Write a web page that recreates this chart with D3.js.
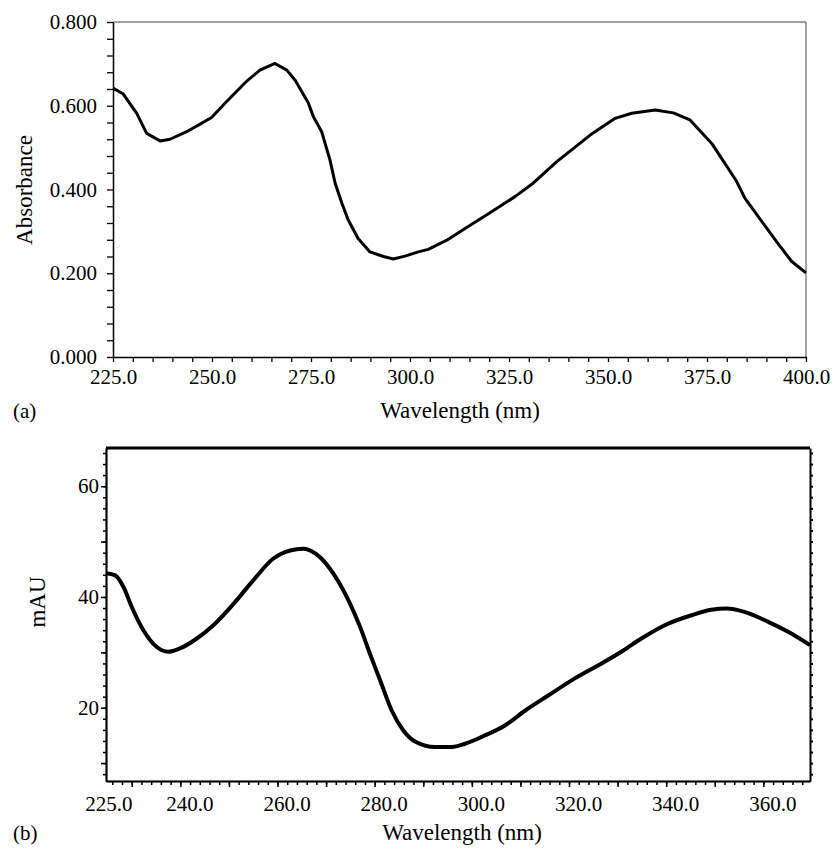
<!DOCTYPE html>
<html>
<head>
<meta charset="utf-8">
<script src="https://cdn.jsdelivr.net/npm/d3@7"></script>
<style>
  body { margin: 0; background: #fff; }
</style>
</head>
<body>
<div id="chart"></div>
<script>
// (a) absorbance spectrum
var absWavelength = [225, 227.6, 231, 233.5, 236.9, 239.4, 243.6, 247, 249.9, 253.7, 258.8, 262.1, 265.9, 268.9, 271, 274.3,
    275.6, 277.7, 279.8, 281.1, 282.8, 284.4, 286.9, 289.9, 293.3, 295.8, 298.7, 302.1, 304.6, 309.3, 313.9, 320.6,
    326.5, 331.1, 337, 345.5, 351.8, 356, 361.9, 366.5, 370.7, 376.2, 382.5, 384.6, 389.2, 392.6, 396.4, 400];
var absValues = [0.642, 0.628, 0.582, 0.534, 0.516, 0.520, 0.538, 0.556, 0.572, 0.610, 0.659, 0.685, 0.701, 0.685, 0.661, 0.607,
    0.574, 0.538, 0.470, 0.415, 0.367, 0.327, 0.283, 0.251, 0.240, 0.234, 0.241, 0.251, 0.257, 0.279, 0.307, 0.347,
    0.383, 0.415, 0.466, 0.530, 0.570, 0.582, 0.590, 0.583, 0.566, 0.510, 0.419, 0.379, 0.319, 0.275, 0.228, 0.201];
var absXTicks = [225, 250, 275, 300, 325, 350, 375, 400];
var absYTicks = [0, 0.2, 0.4, 0.6, 0.8];

// (b) DAD spectrum
var mauWavelength = [224.7, 226.6, 228.3, 230, 232.4, 235.1, 237.5, 239.9, 243.4, 246.8, 251, 255, 259.1, 262.6, 265.3,
    268.7, 271.5, 274.6, 277, 279, 281.1, 283.5, 285.9, 288.5, 292.4, 295.9, 298.6, 302.7, 306.8, 311, 315.7,
    321.2, 326.7, 331.1, 334.9, 339.7, 345.2, 349.3, 352.4, 356.1, 361, 365.1, 369.6];
var mauValues = [44.3, 43.9, 41.8, 38.2, 34.0, 31.0, 30.1, 30.7, 32.5, 34.9, 38.8, 43.0, 46.9, 48.4, 48.7,
    47.2, 44.2, 39.4, 34.6, 29.8, 25.0, 19.5, 15.9, 13.8, 12.9, 12.9, 13.5, 15.0, 16.8, 19.5, 22.2,
    25.3, 28.0, 30.3, 32.5, 34.9, 36.7, 37.7, 37.9, 37.3, 35.5, 33.7, 31.3];
var mauXTicks = [225, 240, 260, 280, 300, 320, 340, 360];
var mauYTicks = [20, 40, 60];

var serif = "'Liberation Serif', 'Times New Roman', Tinos, serif";

var svg = d3.select("#chart").append("svg")
    .attr("width", 835)
    .attr("height", 849);

// ---------- panel a ----------
var xa = d3.scaleLinear().domain([225, 400]).range([113, 806]);
var ya = d3.scaleLinear().domain([0, 0.8]).range([357, 22]);

var ga = svg.append("g");

// frame (top and right)
ga.append("path")
    .attr("d", "M" + xa(225) + "," + ya(0.8) + "H" + xa(400) + "V" + ya(0))
    .attr("fill", "none")
    .attr("stroke", "#444")
    .attr("stroke-width", 1);

var axA = ga.append("g")
    .attr("transform", "translate(0," + ya(0) + ")")
    .call(d3.axisBottom(xa)
        .tickValues(d3.range(225, 401, 5))
        .tickSize(5).tickSizeOuter(0).tickPadding(7)
        .tickFormat(function (d) { return absXTicks.indexOf(d) >= 0 ? d.toFixed(1) : ""; }));

var ayA = ga.append("g")
    .attr("transform", "translate(" + xa(225) + ",0)")
    .call(d3.axisLeft(ya)
        .tickValues(d3.range(0, 21).map(function (i) { return i * 0.04; }))
        .tickSize(6).tickSizeOuter(0).tickPadding(10)
        .tickFormat(function (d, i) { return i % 5 === 0 ? d.toFixed(3) : ""; }));

[axA, ayA].forEach(function (g) {
    g.attr("font-family", serif);
    g.selectAll("text").style("font-family", serif).style("font-size", "21px").attr("fill", "#000");
    g.selectAll("line").attr("stroke", "#000").attr("stroke-width", 1.3);
    g.select(".domain").attr("stroke", "#000").attr("stroke-width", 1.5);
});

var lineA = d3.line()
    .x(function (d, i) { return xa(absWavelength[i]); })
    .y(function (d) { return ya(d); });

ga.append("path")
    .datum(absValues)
    .attr("d", lineA)
    .attr("fill", "none")
    .attr("stroke", "#000")
    .attr("stroke-width", 3)
    .attr("stroke-linejoin", "round");

ga.append("text")
    .attr("transform", "translate(24,190) rotate(-90)")
    .attr("text-anchor", "middle")
    .attr("dy", "0.35em")
    .style("font-family", serif)
    .style("font-size", "23px")
    .text("Absorbance");

ga.append("text")
    .attr("x", 460).attr("y", 418)
    .attr("text-anchor", "middle")
    .style("font-family", serif)
    .style("font-size", "23px")
    .text("Wavelength (nm)");

ga.append("text")
    .attr("x", 13).attr("y", 418)
    .style("font-family", serif)
    .style("font-size", "21px")
    .text("(a)");

// ---------- panel b ----------
var xb = d3.scaleLinear().domain([224.7, 369.6]).range([106, 810]);
var yb = d3.scaleLinear().domain([6.77, 66.9]).range([781, 448]);

var gb = svg.append("g");

// thick top border
gb.append("line")
    .attr("x1", xb(224.7)).attr("x2", xb(369.6))
    .attr("y1", yb(66.9)).attr("y2", yb(66.9))
    .attr("stroke", "#000").attr("stroke-width", 3);

// right border with small ticks
gb.append("g")
    .attr("transform", "translate(" + xb(369.6) + ",0)")
    .call(d3.axisRight(yb)
        .tickValues(d3.range(8, 67, 2))
        .tickSize(3).tickSizeOuter(0)
        .tickFormat(""))
    .call(function (g) {
        g.selectAll("line").attr("stroke", "#000").attr("stroke-width", 2);
        g.select(".domain").attr("stroke", "#000").attr("stroke-width", 2);
    });

// minor / major ticks bottom and left
var bxMinor = gb.append("g")
    .attr("transform", "translate(0," + yb(6.77) + ")")
    .call(d3.axisBottom(xb).tickValues(d3.range(226, 369, 2)).tickSize(4).tickSizeOuter(0).tickFormat(""));
var bxMajor = gb.append("g")
    .attr("transform", "translate(0," + yb(6.77) + ")")
    .call(d3.axisBottom(xb).tickValues(d3.range(230, 361, 10)).tickSize(6).tickSizeOuter(0).tickFormat(""));
var bxLab = gb.append("g")
    .attr("transform", "translate(0," + yb(6.77) + ")")
    .call(d3.axisBottom(xb).tickValues(mauXTicks).tickSize(0).tickPadding(15)
        .tickFormat(function (d) { return d.toFixed(1); }));
bxLab.selectAll("text").attr("dx", function (d) { return d === 225 ? 1 : 9; });

var byMinor = gb.append("g")
    .attr("transform", "translate(" + xb(224.7) + ",0)")
    .call(d3.axisLeft(yb).tickValues(d3.range(8, 67, 2)).tickSize(3).tickSizeOuter(0).tickFormat(""));
var byMajor = gb.append("g")
    .attr("transform", "translate(" + xb(224.7) + ",0)")
    .call(d3.axisLeft(yb).tickValues(d3.range(10, 61, 10)).tickSize(5).tickSizeOuter(0).tickFormat(""));
var byLab = gb.append("g")
    .attr("transform", "translate(" + xb(224.7) + ",0)")
    .call(d3.axisLeft(yb).tickValues(mauYTicks).tickSize(0).tickPadding(7).tickFormat(d3.format("d")));

[bxMinor, bxMajor, bxLab, byMinor, byMajor, byLab].forEach(function (g) {
    g.attr("font-family", serif);
    g.selectAll("text").style("font-family", serif).style("font-size", "21px").attr("fill", "#000");
    g.selectAll("line").attr("stroke", "#000").attr("stroke-width", 1.5);
    g.select(".domain").attr("stroke", "#000").attr("stroke-width", 1.5);
});

var lineB = d3.line()
    .curve(d3.curveMonotoneX)
    .x(function (d, i) { return xb(mauWavelength[i]); })
    .y(function (d) { return yb(d); });

gb.append("path")
    .datum(mauValues)
    .attr("d", lineB)
    .attr("fill", "none")
    .attr("stroke", "#000")
    .attr("stroke-width", 4)
    .attr("stroke-linejoin", "round");

gb.append("text")
    .attr("transform", "translate(37,602) rotate(-90)")
    .attr("text-anchor", "middle")
    .attr("dy", "0.35em")
    .style("font-family", serif)
    .style("font-size", "23px")
    .text("mAU");

gb.append("text")
    .attr("x", 462).attr("y", 840)
    .attr("text-anchor", "middle")
    .style("font-family", serif)
    .style("font-size", "23px")
    .text("Wavelength (nm)");

gb.append("text")
    .attr("x", 13).attr("y", 840)
    .style("font-family", serif)
    .style("font-size", "21px")
    .text("(b)");
</script>
</body>
</html>
